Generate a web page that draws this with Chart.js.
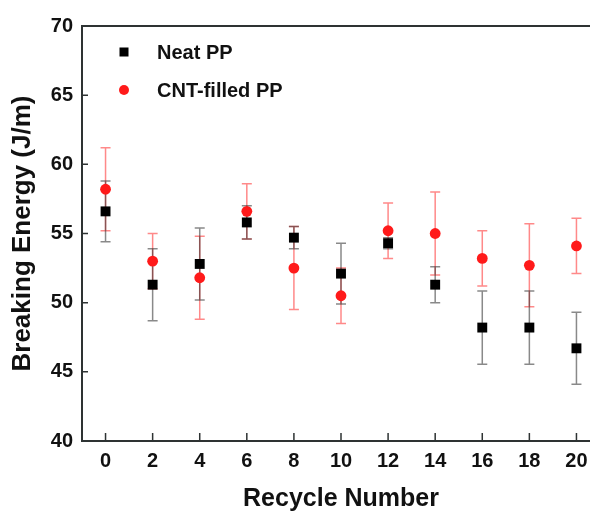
<!DOCTYPE html>
<html>
<head>
<meta charset="utf-8">
<script src="https://cdn.jsdelivr.net/npm/chart.js@4.4.1/dist/chart.umd.min.js"></script>
<style>
  html, body { margin: 0; padding: 0; background: #fff; overflow: hidden; }
  #wrap { position: absolute; left: 0; top: 0; width: 620px; height: 514px; }
</style>
</head>
<body>
<div id="wrap"><canvas id="c" width="620" height="514"></canvas></div>
<script>
// Data
const recycleNumbers = [0, 2, 4, 6, 8, 10, 12, 14, 16, 18, 20];
const neatMean = [56.6, 51.3, 52.8, 55.8, 54.7, 52.1, 54.3, 51.3, 48.2, 48.2, 46.7];
const neatErr  = [2.2, 2.6, 2.6, 1.2, 0.8, 2.2, 0.4, 1.3, 2.65, 2.65, 2.6];
const cntMean  = [58.2, 53.0, 51.8, 56.6, 52.5, 50.5, 55.2, 55.0, 53.2, 52.7, 54.1];
const cntErr   = [3.0, 2.0, 3.0, 2.0, 3.0, 2.0, 2.0, 3.0, 2.0, 3.0, 2.0];
const xTicks = [0, 2, 4, 6, 8, 10, 12, 14, 16, 18, 20];
const yTicks = [40, 45, 50, 55, 60, 65, 70];

const FONT = '"Liberation Sans", Arial, sans-serif';
const AXIS_COLOR = '#2e3333';

function points(means) {
    return recycleNumbers.map((x, i) => ({ x: x, y: means[i] }));
}

// error bars with caps, drawn under the markers
const errorBars = {
    id: 'errorBars',
    beforeDatasetsDraw(chart) {
        const ctx = chart.ctx;
        const xs = chart.scales.x, ys = chart.scales.y;
        const sets = [
            { mean: cntMean, err: cntErr, color: 'rgba(255, 40, 40, 0.55)' },
            { mean: neatMean, err: neatErr, color: 'rgba(40, 40, 40, 0.55)' }
        ];
        ctx.save();
        ctx.lineWidth = 1.5;
        sets.forEach(s => {
            ctx.strokeStyle = s.color;
            recycleNumbers.forEach((r, i) => {
                const px = xs.getPixelForValue(r);
                const top = ys.getPixelForValue(s.mean[i] + s.err[i]);
                const bot = ys.getPixelForValue(s.mean[i] - s.err[i]);
                ctx.beginPath();
                ctx.moveTo(px, top); ctx.lineTo(px, bot);
                ctx.moveTo(px - 5, top); ctx.lineTo(px + 5, top);
                ctx.moveTo(px - 5, bot); ctx.lineTo(px + 5, bot);
                ctx.stroke();
            });
        });
        ctx.restore();
    }
};

// frame top line, inward tick marks and the in-plot legend
const frameAndLegend = {
    id: 'frameAndLegend',
    afterDraw(chart) {
        const ctx = chart.ctx;
        const area = chart.chartArea;
        const xs = chart.scales.x, ys = chart.scales.y;
        ctx.save();
        ctx.strokeStyle = AXIS_COLOR;
        ctx.lineWidth = 2;
        ctx.beginPath();
        ctx.moveTo(area.left - 1, area.top);
        ctx.lineTo(area.right, area.top);
        ctx.stroke();

        ctx.lineWidth = 1.5;
        ctx.beginPath();
        xTicks.forEach(v => {
            const px = xs.getPixelForValue(v);
            ctx.moveTo(px, area.bottom);
            ctx.lineTo(px, area.bottom - 8);
        });
        yTicks.forEach(v => {
            if (v === 40 || v === 70) return;
            const py = ys.getPixelForValue(v);
            ctx.moveTo(area.left, py);
            ctx.lineTo(area.left + 6, py);
        });
        ctx.stroke();

        // legend
        ctx.fillStyle = '#000';
        ctx.fillRect(124 - 4.5, 52 - 4.5, 9, 9);
        ctx.fillStyle = '#ff1a1a';
        ctx.beginPath();
        ctx.arc(124, 90, 5, 0, Math.PI * 2);
        ctx.fill();
        ctx.fillStyle = '#111';
        ctx.font = 'bold 20px ' + FONT;
        ctx.textBaseline = 'middle';
        ctx.textAlign = 'left';
        ctx.fillText(chart.data.datasets[0].label, 157, 53);
        ctx.fillText(chart.data.datasets[1].label, 157, 91);
        ctx.restore();
    }
};

new Chart(document.getElementById('c'), {
    type: 'scatter',
    data: {
        datasets: [
            {
                label: 'Neat PP',
                data: points(neatMean),
                pointStyle: 'rect',
                pointRadius: 7,
                pointHoverRadius: 7,
                backgroundColor: '#000',
                borderColor: '#000',
                borderWidth: 0
            },
            {
                label: 'CNT-filled PP',
                data: points(cntMean),
                pointStyle: 'circle',
                pointRadius: 5.4,
                pointHoverRadius: 5.4,
                backgroundColor: '#ff1a1a',
                borderColor: '#ff1a1a',
                borderWidth: 0
            }
        ]
    },
    options: {
        responsive: false,
        animation: false,
        events: [],
        layout: { padding: { left: 0, top: 26, right: 20, bottom: 0 } },
        plugins: { legend: { display: false }, tooltip: { enabled: false } },
        scales: {
            x: {
                type: 'linear',
                min: -1,
                max: 21,
                afterBuildTicks: s => { s.ticks = xTicks.map(v => ({ value: v })); },
                afterFit: s => { s.height = 73; },
                grid: { display: false, drawTicks: false },
                border: { display: true, color: AXIS_COLOR, width: 2 },
                ticks: { color: '#111', padding: 8, font: { family: FONT, size: 20, weight: 'bold' } },
                title: {
                    display: true,
                    text: 'Recycle Number',
                    color: '#111',
                    padding: { top: 0, bottom: 0 },
                    font: { family: FONT, size: 25, weight: 'bold' }
                }
            },
            y: {
                min: 40,
                max: 70,
                afterBuildTicks: s => { s.ticks = yTicks.map(v => ({ value: v })); },
                afterFit: s => { s.width = 82; },
                grid: { display: false, drawTicks: false },
                border: { display: true, color: AXIS_COLOR, width: 2 },
                ticks: { color: '#111', padding: 9, font: { family: FONT, size: 20, weight: 'bold' } },
                title: {
                    display: true,
                    text: 'Breaking Energy (J/m)',
                    color: '#111',
                    padding: { top: 7, bottom: 0 },
                    font: { family: FONT, size: 26, weight: 'bold' }
                }
            }
        }
    },
    plugins: [errorBars, frameAndLegend]
});
</script>
</body>
</html>
